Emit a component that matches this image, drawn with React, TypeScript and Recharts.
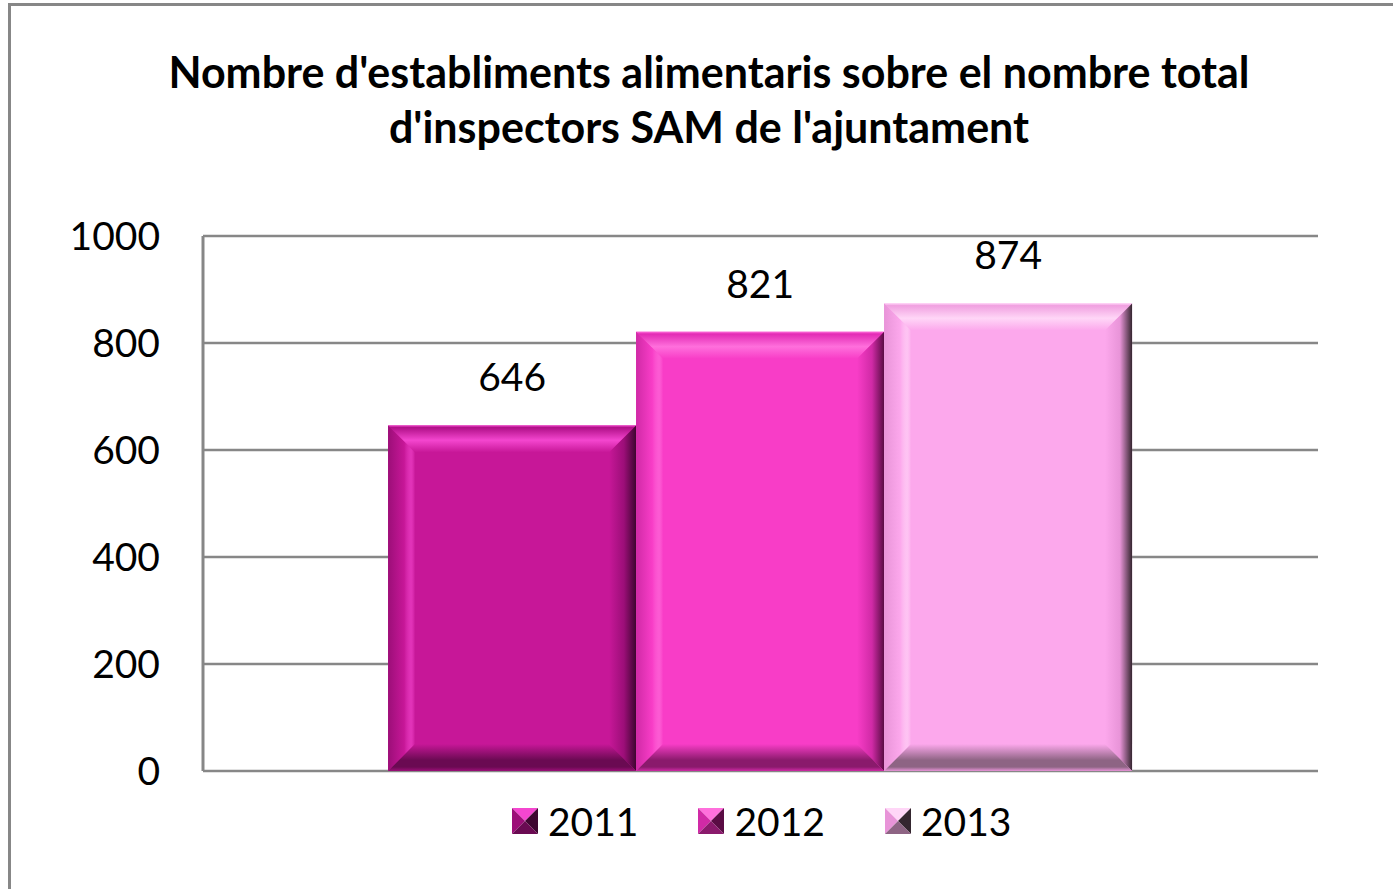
import React from 'react';
import { BarChart, Bar, XAxis, YAxis, CartesianGrid, Legend, LabelList } from 'recharts';

const categories = ['Establiments per inspector'];
const seriesNames = ['2011', '2012', '2013'];
const values2011 = [646];
const values2012 = [821];
const values2013 = [874];
const yTicks = [0, 200, 400, 600, 800, 1000];
const titleLines = [
  "Nombre d'establiments alimentaris sobre el nombre total",
  "d'inspectors SAM de l'ajuntament",
];

const data = categories.map((c, i) => ({
  name: c,
  '2011': values2011[i],
  '2012': values2012[i],
  '2013': values2013[i],
}));

type Pal = { base: string; light: string; dark: string; side: string; top0: string; bottom: string };
const palette: Record<string, Pal> = {
  '2011': { base: '#C71798', light: '#F446CF', dark: '#3E0630', side: '#9C0E78', top0: '#B01088', bottom: '#6A0A52' },
  '2012': { base: '#F83DC7', light: '#FF6FDC', dark: '#5A0C44', side: '#D02AA6', top0: '#E22AB4', bottom: '#8A1A6C' },
  '2013': { base: '#FCA8EC', light: '#FFD6F7', dark: '#34262F', side: '#E894D8', top0: '#F0A0E0', bottom: '#8E6484' },
};

const FONT = 'Lato, "Open Sans", "DejaVu Sans", sans-serif';
const GRID = '#878787';

const makeShape = (key: string) => (props: any) => {
  const { x, y, width: w, height: h } = props;
  if (!w || !h) return <g />;
  const p = palette[key];
  const b = Math.min(27, w / 2, h / 2);
  const id = `bv${key}`;
  return (
    <g>
      <defs>
        <linearGradient id={`${id}t`} x1="0" y1="0" x2="0" y2="1">
          <stop offset="0" stopColor={p.light} />
          <stop offset="0.08" stopColor={p.top0} />
          <stop offset="0.55" stopColor={p.light} />
          <stop offset="1" stopColor={p.base} />
        </linearGradient>
        <linearGradient id={`${id}l`} x1="0" y1="0" x2="1" y2="0">
          <stop offset="0" stopColor={p.side} />
          <stop offset="0.6" stopColor={p.base} />
          <stop offset="0.85" stopColor={p.light} stopOpacity="0.6" />
          <stop offset="1" stopColor={p.base} />
        </linearGradient>
        <linearGradient id={`${id}r`} x1="0" y1="0" x2="1" y2="0">
          <stop offset="0" stopColor={p.base} />
          <stop offset="0.55" stopColor={p.side} />
          <stop offset="1" stopColor={p.dark} />
        </linearGradient>
        <linearGradient id={`${id}b`} x1="0" y1="0" x2="0" y2="1">
          <stop offset="0" stopColor={p.base} />
          <stop offset="0.6" stopColor={p.bottom} />
          <stop offset="0.85" stopColor={p.bottom} />
          <stop offset="1" stopColor={p.side} />
        </linearGradient>
      </defs>
      <rect x={x} y={y} width={w} height={h} fill={p.base} />
      <polygon points={`${x},${y} ${x + w},${y} ${x + w - b},${y + b} ${x + b},${y + b}`} fill={`url(#${id}t)`} />
      <polygon points={`${x},${y} ${x + b},${y + b} ${x + b},${y + h - b} ${x},${y + h}`} fill={`url(#${id}l)`} />
      <polygon points={`${x + w},${y} ${x + w},${y + h} ${x + w - b},${y + h - b} ${x + w - b},${y + b}`} fill={`url(#${id}r)`} />
      <polygon points={`${x},${y + h} ${x + b},${y + h - b} ${x + w - b},${y + h - b} ${x + w},${y + h}`} fill={`url(#${id}b)`} />
    </g>
  );
};

const LegendIcon = ({ k }: { k: string }) => {
  const p = palette[k];
  const s = 26;
  const c = s / 2;
  return (
    <svg width={s} height={s} style={{ display: 'block' }}>
      <polygon points={`0,0 ${s},0 ${c},${c}`} fill={p.light} />
      <polygon points={`0,0 ${c},${c} 0,${s}`} fill={p.side} />
      <polygon points={`${s},0 ${s},${s} ${c},${c}`} fill={p.dark} />
      <polygon points={`0,${s} ${c},${c} ${s},${s}`} fill={p.bottom} />
    </svg>
  );
};

const LegendContent = () => (
  <div style={{ display: 'flex', alignItems: 'center', fontFamily: FONT, fontSize: 39, color: '#000' }}>
    {seriesNames.map((n, i) => (
      <div key={n} style={{ display: 'flex', alignItems: 'center', marginRight: i < seriesNames.length - 1 ? 60 : 0 }}>
        <LegendIcon k={n} />
        <span style={{ marginLeft: 10, lineHeight: '40px' }}>{n}</span>
      </div>
    ))}
  </div>
);

export default function App() {
  return (
    <div style={{ position: 'absolute', left: 0, top: 0, width: 1393, height: 889, overflow: 'hidden', background: '#fff' }}>
      <div
        style={{
          position: 'absolute',
          left: 8,
          top: 3,
          width: 1400,
          height: 900,
          border: '3px solid #878787',
          boxSizing: 'border-box',
        }}
      />
      <div
        style={{
          position: 'absolute',
          left: 0,
          top: 44,
          width: 1418,
          textAlign: 'center',
          fontFamily: FONT,
          fontWeight: 'bold',
          fontSize: 43,
          lineHeight: '55px',
          color: '#000',
        }}
      >
        {titleLines.map((l) => (
          <div key={l}>{l}</div>
        ))}
      </div>
      <div style={{ position: 'absolute', left: 0, top: 0 }}>
        <BarChart
          width={1393}
          height={889}
          data={data}
          margin={{ top: 236, right: 75, left: 53, bottom: 118 }}
          barCategoryGap="16.6%"
          barGap={0}
        >
          <CartesianGrid vertical={false} stroke={GRID} strokeWidth={2.5} />
          <XAxis
            dataKey="name"
            tick={false}
            tickLine={false}
            height={0}
            axisLine={{ stroke: GRID, strokeWidth: 3 }}
          />
          <YAxis
            width={150}
            domain={[0, 1000]}
            ticks={yTicks}
            interval={0}
            tickLine={false}
            tickSize={0}
            tickMargin={43}
            axisLine={{ stroke: GRID, strokeWidth: 3 }}
            tick={{ fontSize: 39, fill: '#000', fontFamily: FONT }}
          />
          <Legend
            verticalAlign="middle"
            layout="horizontal"
            content={<LegendContent />}
            wrapperStyle={{ position: 'absolute', left: 512, top: 801, width: 600, height: 40 }}
          />
          {seriesNames.map((n) => (
            <Bar key={n} dataKey={n} fill={palette[n].base} isAnimationActive={false} shape={makeShape(n)}>
              <LabelList dataKey={n} position="top" offset={34} style={{ fontSize: 39, fill: '#000', fontFamily: FONT }} />
            </Bar>
          ))}
        </BarChart>
      </div>
    </div>
  );
}
